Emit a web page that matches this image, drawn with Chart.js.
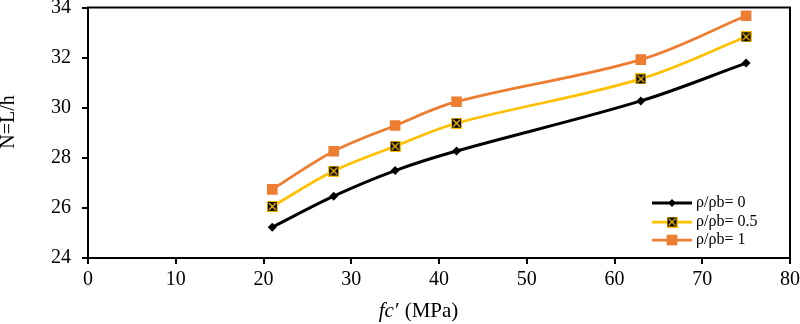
<!DOCTYPE html>
<html>
<head>
<meta charset="utf-8">
<script src="https://cdn.jsdelivr.net/npm/chart.js@4/dist/chart.umd.min.js"></script>
<style>
  html, body { margin: 0; padding: 0; background: #fff; }
  #wrap { width: 800px; height: 324px; position: relative; }
</style>
</head>
<body>
<div id="wrap"><canvas id="c" width="800" height="324"></canvas></div>
<script>
const fcValues = [21, 28, 35, 42, 63, 75];
const seriesRatio0 = [25.23, 26.47, 27.49, 28.27, 30.27, 31.78];
const seriesRatio05 = [26.06, 27.47, 28.46, 29.38, 31.15, 32.83];
const seriesRatio1 = [26.74, 28.26, 29.29, 30.24, 31.92, 33.67];
const seriesLabels = ['ρ/ρb= 0', 'ρ/ρb= 0.5', 'ρ/ρb= 1'];
const xTicks = [0, 10, 20, 30, 40, 50, 60, 70, 80];
const yTicks = [24, 26, 28, 30, 32, 34];
const xTitleItalic = 'fc′';
const xTitleRest = ' (MPa)';
const yTitle = 'N=L/h';

const FONT = '"Liberation Serif", "Times New Roman", serif';

function makeXBox(size) {
  const c = document.createElement('canvas');
  c.width = size; c.height = size;
  const g = c.getContext('2d');
  g.fillStyle = '#000';
  g.fillRect(0, 0, size, size);
  g.strokeStyle = '#FFC000';
  g.lineWidth = 1;
  g.strokeRect(0.5, 0.5, size - 1, size - 1);
  g.lineWidth = 1.4;
  g.beginPath();
  g.moveTo(2, 2); g.lineTo(size - 2, size - 2);
  g.moveTo(size - 2, 2); g.lineTo(2, size - 2);
  g.stroke();
  return c;
}
const xBox = makeXBox(11);

function pts(vals) { return fcValues.map((x, i) => ({ x: x, y: vals[i] })); }

const datasets = [
  { label: seriesLabels[0], data: pts(seriesRatio0), borderColor: '#000000', backgroundColor: '#000000',
    borderWidth: 3, pointStyle: 'rectRot', pointRadius: 4.5, pointHoverRadius: 4.5, pointBorderWidth: 0 },
  { label: seriesLabels[1], data: pts(seriesRatio05), borderColor: '#FFC000', backgroundColor: '#000000',
    borderWidth: 2.75, pointStyle: xBox, pointRadius: 5.5, pointBorderWidth: 0 },
  { label: seriesLabels[2], data: pts(seriesRatio1), borderColor: '#ED7D31', backgroundColor: '#ED7D31',
    borderWidth: 2.75, pointStyle: 'rect', pointRadius: 7.5, pointHoverRadius: 7.5, pointBorderWidth: 0 }
];

const framePlugin = {
  id: 'frame',
  afterDraw(chart) {
    const { ctx, chartArea: a } = chart;
    ctx.save();
    ctx.strokeStyle = '#000';
    ctx.lineWidth = 2;
    ctx.strokeRect(a.left, a.top, a.right - a.left, a.bottom - a.top);
    ctx.fillStyle = '#000';
    ctx.textBaseline = 'middle';
    // x title with italic part
    const it = 'italic 21px ' + FONT;
    const nm = '21px ' + FONT;
    ctx.font = it; const w1 = ctx.measureText(xTitleItalic).width;
    ctx.font = nm; const w2 = ctx.measureText(xTitleRest).width;
    const cx = 418, cy = 311;
    const x0 = cx - (w1 + w2) / 2;
    ctx.textAlign = 'left';
    ctx.font = it; ctx.fillText(xTitleItalic, x0, cy);
    ctx.font = nm; ctx.fillText(xTitleRest, x0 + w1 + 1, cy);
    // y title
    ctx.save();
    ctx.translate(9, 122);
    ctx.rotate(-Math.PI / 2);
    ctx.textAlign = 'center';
    ctx.font = '20px ' + FONT;
    ctx.fillText(yTitle, 0, 0);
    ctx.restore();
    // legend
    const ys = [203, 222, 240];
    chart.data.datasets.forEach((ds, i) => {
      const y = ys[i];
      ctx.strokeStyle = ds.borderColor;
      ctx.lineWidth = ds.borderWidth;
      ctx.beginPath(); ctx.moveTo(652, y); ctx.lineTo(692, y); ctx.stroke();
      const mx = 672;
      ctx.fillStyle = ds.backgroundColor;
      if (ds.pointStyle === 'rectRot') {
        const r = 4;
        ctx.beginPath(); ctx.moveTo(mx, y - r); ctx.lineTo(mx + r, y); ctx.lineTo(mx, y + r); ctx.lineTo(mx - r, y); ctx.closePath(); ctx.fill();
      } else if (ds.pointStyle === 'rect') {
        const s = ds.pointRadius * Math.SQRT1_2;
        ctx.fillRect(mx - s, y - s, 2 * s, 2 * s);
      } else {
        ctx.drawImage(ds.pointStyle, mx - ds.pointStyle.width / 2, y - ds.pointStyle.height / 2);
      }
      ctx.fillStyle = '#000';
      ctx.font = '16px ' + FONT;
      ctx.textAlign = 'left';
      ctx.fillText(ds.label, 696, y);
    });
    ctx.restore();
  }
};

new Chart(document.getElementById('c'), {
  type: 'line',
  data: { datasets },
  options: {
    responsive: false,
    animation: false,
    layout: { padding: { left: 0, top: 7, right: 10, bottom: 0 } },
    elements: { line: { tension: 0.35, fill: false } },
    plugins: { legend: { display: false }, tooltip: { enabled: false } },
    scales: {
      x: {
        type: 'linear', min: 0, max: 80,
        afterFit(s) { s.height = 66; s.paddingLeft = 0; s.paddingRight = 0; },
        afterBuildTicks(s) { s.ticks = xTicks.map(v => ({ value: v })); },
        grid: { drawOnChartArea: false, drawTicks: true, tickLength: 6, color: '#000', lineWidth: 2 },
        border: { display: false },
        ticks: { color: '#000', font: { family: FONT, size: 20 }, padding: 4, maxRotation: 0 }
      },
      y: {
        min: 24, max: 34,
        afterFit(s) { s.width = 88; s.paddingTop = 0; s.paddingBottom = 0; },
        afterBuildTicks(s) { s.ticks = yTicks.map(v => ({ value: v })); },
        grid: { drawOnChartArea: false, drawTicks: true, tickLength: 6, color: '#000', lineWidth: 2 },
        border: { display: false },
        ticks: { color: '#000', font: { family: FONT, size: 20 }, padding: 11 }
      }
    }
  },
  plugins: [framePlugin]
});
</script>
</body>
</html>
